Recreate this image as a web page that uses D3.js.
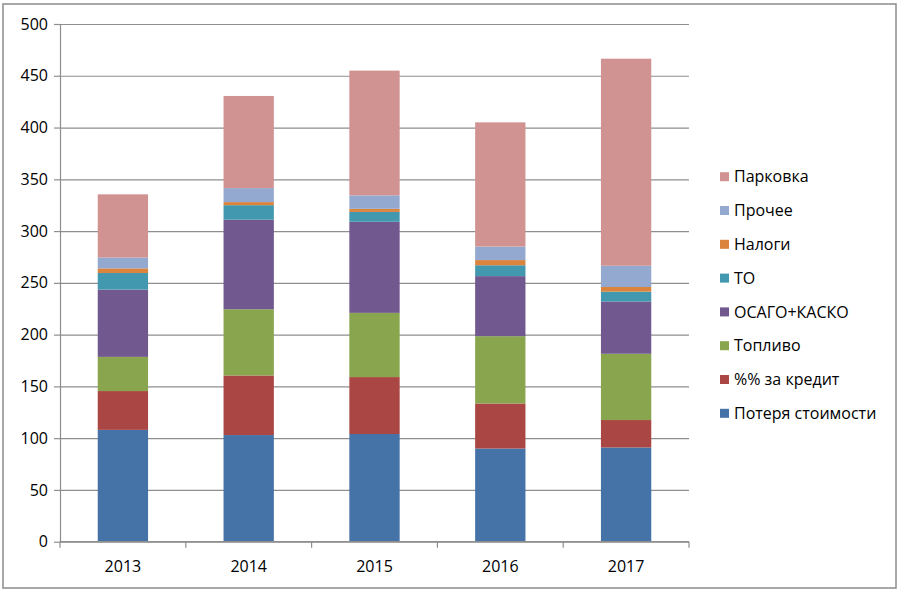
<!DOCTYPE html>
<html><head><meta charset="utf-8">
<script src="https://cdn.jsdelivr.net/npm/d3@7"></script>
<style>body{margin:0;background:#fff}svg text{font-family:"Open Sans",sans-serif;fill:#000}</style>
</head><body><svg id="c" width="900" height="590"></svg>
<script>
const years = ["2013","2014","2015","2016","2017"];
const seriesNames = ["Потеря стоимости","%% за кредит","Топливо","ОСАГО+КАСКО","ТО","Налоги","Прочее","Парковка"];
const colors = ["#4572A7","#AA4643","#89A54E","#71588F","#4198AF","#DB843D","#93A9CF","#D19392"];
const lossValue = [108, 103, 104, 90, 91];
const creditInterest = [37.5, 57.5, 55, 43.5, 26.5];
const fuel = [33, 64, 62, 65, 64];
const insurance = [65, 86.5, 88, 58, 50.5];
const maintenance = [16, 14, 9.5, 10.5, 9.5];
const taxes = [4.5, 3, 3, 5, 4.5];
const other = [10.5, 13.5, 13, 13, 20.5];
const parking = [61, 89, 120.5, 120, 200];
const yTicks = [0,50,100,150,200,250,300,350,400,450,500];

const seriesVals = [lossValue, creditInterest, fuel, insurance, maintenance, taxes, other, parking];
const rows = years.map((y,i)=>{const o={year:y}; seriesNames.forEach((n,k)=>o[n]=seriesVals[k][i]); return o;});
const stack = d3.stack().keys(seriesNames)(rows);

const svg = d3.select("#c");
// background + border
svg.append("rect").attr("x",0).attr("y",0).attr("width",900).attr("height",590).attr("fill","#fff");
svg.append("rect").attr("x",3).attr("y",4).attr("width",893).attr("height",584).attr("fill","#fff").attr("stroke","#8c8c8c").attr("stroke-width",1.5);

const L=60, R=689, T=24, B=541.7;
const x = d3.scaleBand().domain(years).range([L,R]).paddingInner(0.6).paddingOuter(0.3);
const y = d3.scaleLinear().domain([0,500]).range([B,T]);

// gridlines
const gy = svg.append("g").attr("transform",`translate(${L},0)`)
  .call(d3.axisLeft(y).tickValues(yTicks).tickSize(-(R-L)).tickSizeOuter(0).tickPadding(12));
gy.select(".domain").remove();
gy.selectAll(".tick line").attr("stroke","#8e8e8e").attr("stroke-width",1.2);
gy.selectAll(".tick text").attr("font-size",16).attr("fill","#000");
// left ticks
const gy2 = svg.append("g").attr("transform",`translate(${L},0)`)
  .call(d3.axisLeft(y).tickValues(yTicks).tickSize(6).tickSizeOuter(0).tickFormat(""));
gy2.select(".domain").attr("stroke","#8e8e8e").attr("stroke-width",1.2);
gy2.selectAll(".tick line").attr("stroke","#8e8e8e").attr("stroke-width",1.2);

// bars
svg.append("g").selectAll("g").data(stack).join("g").attr("fill",(d,i)=>colors[i])
  .selectAll("rect").data(d=>d).join("rect")
  .attr("x",d=>x(d.data.year)).attr("width",x.bandwidth())
  .attr("y",d=>y(d[1])).attr("height",d=>y(d[0])-y(d[1]));

// x axis
const xs = d3.scalePoint().domain(d3.range(years.length+1)).range([L,R]);
const gx = svg.append("g").attr("transform",`translate(0,${B})`);
gx.append("line").attr("x1",L).attr("x2",R).attr("stroke","#8e8e8e").attr("stroke-width",1.2);
gx.selectAll("line.t").data(d3.range(years.length+1)).join("line").attr("class","t")
  .attr("x1",d=>xs(d)).attr("x2",d=>xs(d)).attr("y1",0).attr("y2",6).attr("stroke","#8e8e8e").attr("stroke-width",1.2);
gx.selectAll("text").data(years).join("text").attr("x",d=>x(d)+x.bandwidth()/2).attr("y",30)
  .attr("text-anchor","middle").attr("font-size",16).text(d=>d);

// legend
const legendOrder = seriesNames.map((n,i)=>({n,c:colors[i]})).reverse();
const lg = svg.append("g").selectAll("g").data(legendOrder).join("g")
  .attr("transform",(d,i)=>`translate(720,${176.7+i*33.8})`);
lg.append("rect").attr("x",0).attr("y",-4.5).attr("width",9).attr("height",9).attr("fill",d=>d.c);
lg.append("text").attr("x",14).attr("y",0).attr("dy","0.35em").attr("font-size",16).text(d=>d.n);
</script></body></html>
